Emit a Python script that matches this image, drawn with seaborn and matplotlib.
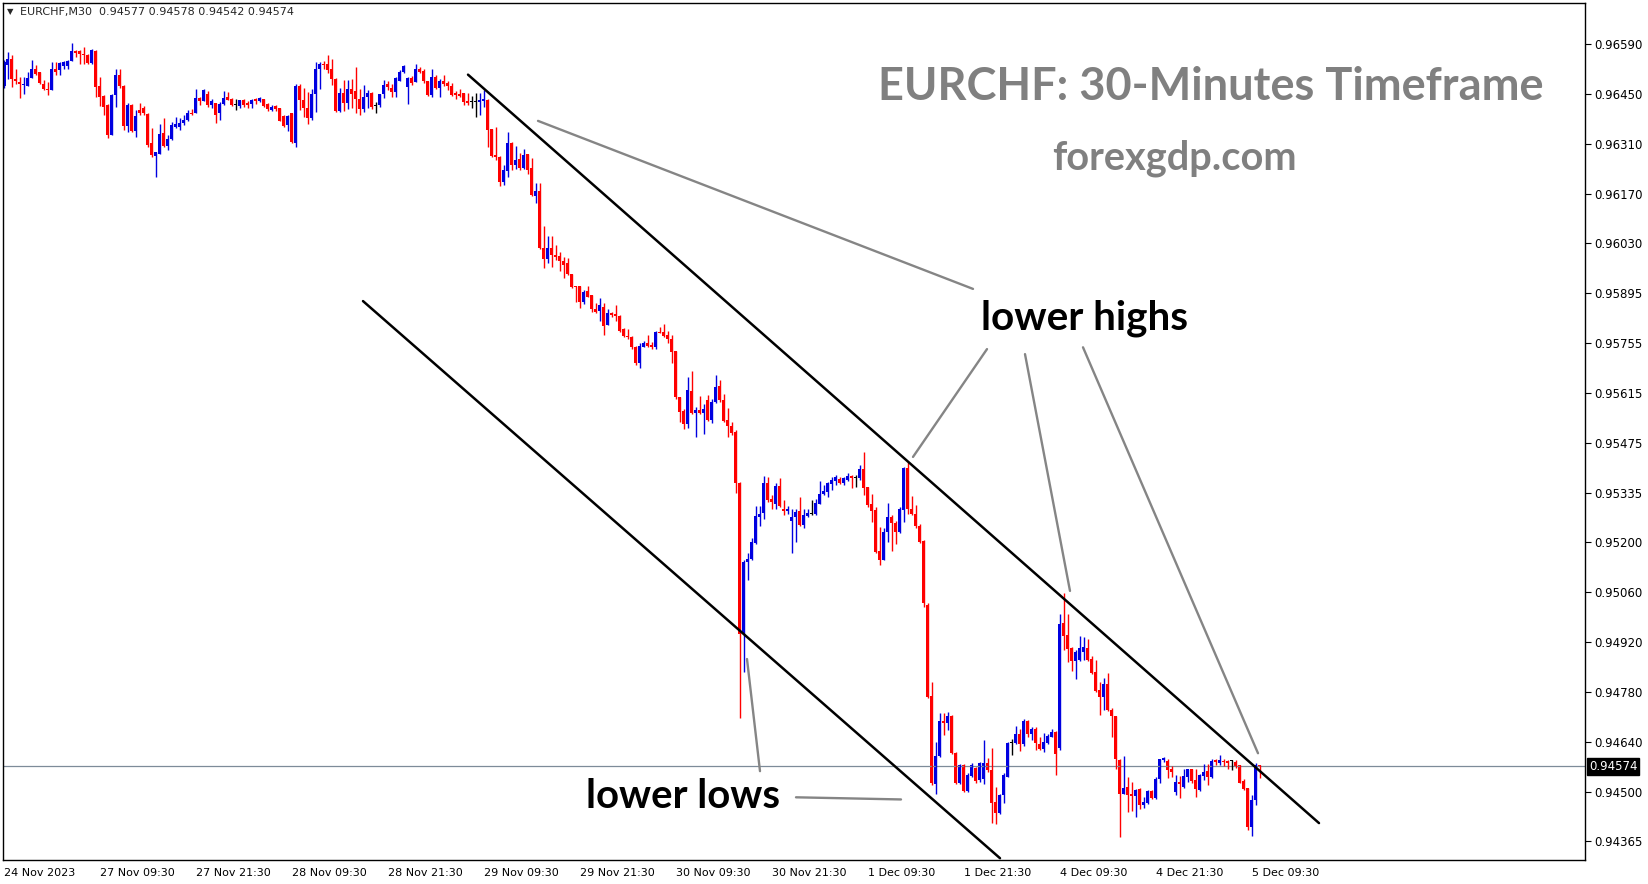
import numpy as np
import pandas as pd
import matplotlib
matplotlib.use("Agg")
import matplotlib.pyplot as plt
import matplotlib.transforms as mtransforms
import seaborn as sns

# EURCHF M30 candles, prices in points (1e-5)
opens = np.array([
    96473, 96532, 96550, 96492, 96485, 96477, 96473, 96497, 96522, 96513,
    96480, 96466, 96462, 96522, 96519, 96529, 96530, 96543, 96571, 96571,
    96562, 96559, 96538, 96571, 96473, 96445, 96420, 96336, 96448, 96504,
    96473, 96361, 96420, 96347, 96406, 96413, 96395, 96313, 96278, 96283,
    96341, 96306, 96325, 96358, 96359, 96369, 96378, 96399, 96397, 96439,
    96432, 96450, 96420, 96425, 96397, 96423, 96442, 96436, 96420, 96418,
    96434, 96425, 96423, 96436, 96431, 96436, 96423, 96406, 96417, 96411,
    96389, 96364, 96397, 96313, 96473, 96434, 96411, 96383, 96452, 96522,
    96536, 96536, 96522, 96494, 96404, 96454, 96425, 96466, 96460, 96438,
    96408, 96443, 96454, 96417, 96420, 96451, 96480, 96469, 96457, 96488,
    96513, 96471, 96497, 96485, 96522, 96516, 96486, 96448, 96499, 96467,
    96488, 96483, 96472, 96453, 96451, 96453, 96432, 96428, 96428, 96430,
    96432, 96434, 96352, 96281, 96276, 96206, 96237, 96313, 96253, 96270,
    96244, 96283, 96244, 96167, 96180, 96020, 95990, 96020, 96002, 95999,
    95986, 95980, 95949, 95915, 95915, 95871, 95902, 95889, 95852, 95846,
    95857, 95806, 95839, 95837, 95831, 95794, 95775, 95774, 95746, 95701,
    95746, 95755, 95750, 95746, 95788, 95788, 95778, 95767, 95734, 95604,
    95567, 95530, 95622, 95560, 95569, 95560, 95597, 95541, 95592, 95636,
    95597, 95541, 95524, 95508, 95366, 94945, 95145, 95152, 95197, 95271,
    95282, 95366, 95320, 95306, 95357, 95292, 95288, 95260, 95271, 95288,
    95249, 95273, 95280, 95279, 95308, 95334, 95341, 95362, 95372, 95376,
    95366, 95375, 95385, 95378, 95378, 95403, 95353, 95308, 95290, 95176,
    95150, 95229, 95269, 95253, 95229, 95290, 95408, 95292, 95280, 95245,
    95204, 95025, 94770, 94525, 94603, 94701, 94696, 94715, 94612, 94529,
    94577, 94506, 94547, 94569, 94536, 94538, 94585, 94564, 94474, 94445,
    94494, 94545, 94640, 94639, 94666, 94637, 94701, 94666, 94678, 94636,
    94622, 94640, 94657, 94671, 94625, 94975, 94941, 94906, 94869, 94871,
    94894, 94906, 94873, 94837, 94787, 94769, 94804, 94733, 94715, 94592,
    94497, 94517, 94497, 94491, 94510, 94466, 94473, 94506, 94485, 94540,
    94592, 94589, 94566, 94503, 94531, 94517, 94545, 94566, 94536, 94508,
    94547, 94562, 94545, 94592, 94584, 94590, 94590, 94589, 94587, 94578,
    94533, 94513, 94406, 94480, 94577,
]) / 1e5

highs = np.array([
    96545, 96569, 96559, 96522, 96499, 96499, 96513, 96547, 96532, 96513,
    96490, 96485, 96541, 96541, 96541, 96544, 96545, 96594, 96575, 96573,
    96583, 96564, 96578, 96573, 96499, 96448, 96422, 96450, 96522, 96522,
    96475, 96426, 96422, 96406, 96425, 96417, 96397, 96355, 96290, 96367,
    96385, 96336, 96373, 96387, 96383, 96392, 96406, 96408, 96466, 96443,
    96466, 96459, 96438, 96427, 96429, 96460, 96457, 96441, 96436, 96435,
    96436, 96431, 96436, 96440, 96443, 96438, 96426, 96419, 96420, 96413,
    96391, 96392, 96398, 96478, 96480, 96469, 96457, 96466, 96541, 96541,
    96544, 96561, 96549, 96496, 96469, 96490, 96490, 96492, 96525, 96466,
    96476, 96462, 96457, 96429, 96452, 96490, 96487, 96478, 96499, 96518,
    96532, 96499, 96501, 96536, 96525, 96520, 96488, 96520, 96504, 96492,
    96504, 96488, 96483, 96460, 96464, 96455, 96453, 96445, 96453, 96453,
    96462, 96436, 96353, 96360, 96277, 96253, 96346, 96318, 96306, 96285,
    96297, 96283, 96271, 96202, 96202, 96083, 96055, 96055, 96030, 96011,
    95997, 95992, 95949, 95915, 95915, 95904, 95915, 95889, 95869, 95883,
    95869, 95850, 95843, 95862, 95834, 95797, 95794, 95775, 95748, 95757,
    95762, 95778, 95760, 95790, 95802, 95809, 95790, 95778, 95734, 95606,
    95571, 95660, 95679, 95578, 95608, 95586, 95611, 95599, 95667, 95654,
    95615, 95574, 95536, 95513, 95368, 95150, 95169, 95211, 95301, 95301,
    95385, 95383, 95332, 95366, 95378, 95318, 95301, 95294, 95292, 95325,
    95292, 95292, 95318, 95320, 95372, 95360, 95369, 95383, 95387, 95381,
    95381, 95394, 95387, 95387, 95415, 95452, 95355, 95334, 95299, 95243,
    95239, 95310, 95276, 95260, 95297, 95411, 95425, 95329, 95304, 95251,
    95206, 95030, 94810, 94643, 94724, 94724, 94727, 94718, 94615, 94581,
    94581, 94557, 94585, 94573, 94587, 94648, 94597, 94627, 94518, 94497,
    94557, 94643, 94652, 94687, 94678, 94706, 94704, 94685, 94685, 94657,
    94668, 94666, 94680, 94673, 94999, 95059, 94999, 94908, 94899, 94938,
    94936, 94929, 94882, 94871, 94810, 94820, 94836, 94736, 94716, 94596,
    94603, 94545, 94531, 94510, 94513, 94489, 94508, 94508, 94545, 94596,
    94601, 94594, 94575, 94550, 94547, 94568, 94568, 94567, 94568, 94554,
    94582, 94582, 94594, 94596, 94606, 94594, 94592, 94592, 94592, 94578,
    94540, 94513, 94494, 94584, 94578,
]) / 1e5

lows = np.array([
    96468, 96494, 96471, 96480, 96441, 96452, 96473, 96497, 96504, 96480,
    96462, 96448, 96462, 96504, 96504, 96522, 96522, 96543, 96555, 96536,
    96536, 96536, 96536, 96443, 96417, 96392, 96327, 96336, 96415, 96469,
    96350, 96345, 96345, 96331, 96392, 96392, 96304, 96276, 96220, 96283,
    96302, 96294, 96324, 96355, 96350, 96364, 96376, 96392, 96397, 96420,
    96432, 96415, 96411, 96371, 96378, 96420, 96433, 96417, 96406, 96411,
    96415, 96411, 96411, 96423, 96429, 96415, 96404, 96404, 96403, 96376,
    96359, 96348, 96313, 96304, 96406, 96387, 96367, 96378, 96401, 96466,
    96522, 96510, 96476, 96401, 96401, 96404, 96408, 96411, 96397, 96392,
    96401, 96411, 96408, 96398, 96415, 96441, 96462, 96443, 96443, 96488,
    96510, 96423, 96476, 96485, 96510, 96483, 96445, 96444, 96464, 96442,
    96473, 96462, 96445, 96436, 96444, 96420, 96420, 96411, 96388, 96392,
    96416, 96302, 96276, 96267, 96194, 96197, 96220, 96239, 96241, 96239,
    96241, 96228, 96167, 96148, 96017, 95964, 95978, 95969, 95988, 95958,
    95937, 95946, 95909, 95871, 95853, 95865, 95884, 95843, 95841, 95818,
    95778, 95806, 95828, 95818, 95788, 95772, 95766, 95738, 95695, 95685,
    95744, 95744, 95738, 95738, 95783, 95772, 95755, 95701, 95601, 95536,
    95515, 95518, 95558, 95494, 95558, 95502, 95539, 95532, 95589, 95592,
    95536, 95494, 95500, 95336, 94710, 94838, 95094, 95150, 95195, 95245,
    95266, 95313, 95294, 95294, 95297, 95276, 95279, 95169, 95201, 95245,
    95239, 95271, 95277, 95277, 95306, 95332, 95327, 95346, 95360, 95362,
    95359, 95372, 95350, 95353, 95375, 95332, 95299, 95257, 95169, 95136,
    95150, 95201, 95176, 95195, 95226, 95257, 95279, 95276, 95239, 95197,
    95020, 94764, 94522, 94497, 94601, 94662, 94676, 94609, 94525, 94525,
    94504, 94504, 94545, 94529, 94532, 94525, 94559, 94417, 94413, 94441,
    94471, 94544, 94606, 94637, 94618, 94631, 94657, 94649, 94621, 94620,
    94615, 94638, 94655, 94550, 94620, 94899, 94866, 94841, 94817, 94868,
    94871, 94869, 94832, 94783, 94717, 94733, 94729, 94657, 94568, 94376,
    94496, 94447, 94450, 94433, 94454, 94457, 94469, 94482, 94482, 94527,
    94587, 94543, 94545, 94494, 94485, 94515, 94531, 94527, 94489, 94506,
    94536, 94522, 94543, 94578, 94578, 94575, 94566, 94564, 94571, 94527,
    94508, 94398, 94380, 94466, 94542,
]) / 1e5

closes = np.array([
    96541, 96550, 96494, 96487, 96480, 96480, 96497, 96522, 96506, 96483,
    96464, 96463, 96522, 96513, 96538, 96541, 96544, 96571, 96566, 96564,
    96559, 96538, 96573, 96471, 96443, 96415, 96336, 96448, 96504, 96473,
    96361, 96420, 96347, 96389, 96397, 96397, 96308, 96280, 96288, 96339,
    96305, 96325, 96364, 96367, 96371, 96378, 96399, 96395, 96440, 96432,
    96462, 96420, 96431, 96392, 96423, 96441, 96434, 96420, 96420, 96434,
    96420, 96419, 96434, 96431, 96440, 96417, 96408, 96415, 96409, 96376,
    96361, 96389, 96317, 96473, 96434, 96411, 96383, 96452, 96522, 96536,
    96532, 96518, 96494, 96404, 96454, 96426, 96466, 96452, 96437, 96408,
    96443, 96454, 96415, 96417, 96451, 96476, 96471, 96457, 96497, 96513,
    96529, 96497, 96482, 96522, 96513, 96486, 96448, 96499, 96467, 96488,
    96479, 96472, 96448, 96448, 96446, 96430, 96427, 96428, 96428, 96434,
    96437, 96351, 96278, 96274, 96206, 96239, 96313, 96253, 96267, 96244,
    96281, 96239, 96169, 96180, 96020, 95990, 96020, 96002, 95997, 95986,
    95974, 95949, 95913, 95911, 95871, 95899, 95885, 95850, 95843, 95862,
    95804, 95839, 95834, 95831, 95790, 95775, 95772, 95744, 95701, 95748,
    95757, 95748, 95746, 95788, 95785, 95775, 95766, 95732, 95604, 95564,
    95530, 95625, 95560, 95569, 95560, 95571, 95541, 95592, 95632, 95597,
    95539, 95524, 95505, 95366, 94945, 95145, 95152, 95201, 95273, 95280,
    95366, 95318, 95311, 95357, 95301, 95288, 95292, 95269, 95284, 95247,
    95276, 95282, 95280, 95310, 95334, 95344, 95364, 95373, 95381, 95366,
    95378, 95385, 95378, 95378, 95403, 95350, 95304, 95288, 95173, 95150,
    95229, 95271, 95253, 95229, 95292, 95408, 95292, 95280, 95245, 95201,
    95031, 94767, 94527, 94603, 94701, 94696, 94715, 94611, 94527, 94577,
    94506, 94550, 94578, 94534, 94585, 94583, 94564, 94471, 94445, 94494,
    94550, 94640, 94640, 94666, 94637, 94701, 94666, 94678, 94640, 94624,
    94643, 94659, 94671, 94608, 94973, 94938, 94901, 94869, 94894, 94906,
    94908, 94871, 94836, 94785, 94769, 94804, 94731, 94715, 94594, 94497,
    94515, 94494, 94491, 94508, 94466, 94475, 94506, 94485, 94540, 94594,
    94598, 94564, 94559, 94531, 94525, 94547, 94566, 94534, 94510, 94550,
    94559, 94545, 94589, 94587, 94592, 94587, 94584, 94589, 94573, 94528,
    94510, 94406, 94480, 94578, 94574,
]) / 1e5

header_symbol = "EURCHF,M30"
header_ohlc = "0.94577 0.94578 0.94542 0.94574"
last_price = 0.94574

x_tick_idx = [0, 24, 48, 72, 96, 120, 144, 168, 192, 216, 240, 264, 288, 312]
x_tick_labels = ["24 Nov 2023", "27 Nov 09:30", "27 Nov 21:30", "28 Nov 09:30",
                 "28 Nov 21:30", "29 Nov 09:30", "29 Nov 21:30", "30 Nov 09:30",
                 "30 Nov 21:30", "1 Dec 09:30", "1 Dec 21:30", "4 Dec 09:30",
                 "4 Dec 21:30", "5 Dec 09:30"]
y_tick_labels = ["0.96590", "0.96450", "0.96310", "0.96170", "0.96030", "0.95895",
                 "0.95755", "0.95615", "0.95475", "0.95335", "0.95200", "0.95060",
                 "0.94920", "0.94780", "0.94640", "0.94500", "0.94365"]

# trend channel (candle index, price)
channel_x0 = [116, 89.75]
channel_y0 = [0.96505, 0.95873]
channel_x1 = [328.75, 249]
channel_y1 = [0.94416, 0.94318]

# grey pointer lines
pointer_x0 = [133.5, 245.75, 255.25, 269.75, 185.75, 198]
pointer_y0 = [0.96376, 0.95739, 0.95725, 0.95744, 0.94874, 0.94488]
pointer_x1 = [242.25, 227.25, 266.5, 313.5, 189, 224.25]
pointer_y1 = [0.95907, 0.95438, 0.95064, 0.94611, 0.94561, 0.94482]

title_text = "EURCHF: 30-Minutes Timeframe"
site_text = "forexgdp.com"
highs_text = "lower highs"
lows_text = "lower lows"

sns.set_style("white")

W, H = 1649, 884
fig = plt.figure(figsize=(W / 100, H / 100), dpi=100)
ax = fig.add_axes([3 / W, 24 / H, 1582 / W, 857 / H])

idx = np.arange(len(opens))
colors = np.where(closes > opens, "#0000e0", np.where(closes < opens, "#ff0000", "#000000"))
body_low = np.minimum(opens, closes)
body_h = np.maximum(np.abs(closes - opens), 2.8e-5)

ax.vlines(idx, lows, highs, colors=colors, linewidth=1.0)
ax.bar(idx, body_h, bottom=body_low, width=0.75, color=colors, linewidth=0)

ax.axhline(last_price, color="#7d8b99", linewidth=0.9, zorder=1)

chan = pd.DataFrame({
    "x": channel_x0 + channel_x1,
    "y": channel_y0 + channel_y1,
    "seg": list(range(len(channel_x0))) * 2,
})
sns.lineplot(data=chan, x="x", y="y", units="seg", estimator=None, sort=False,
             color="black", linewidth=1.8, ax=ax)
ptr = pd.DataFrame({
    "x": pointer_x0 + pointer_x1,
    "y": pointer_y0 + pointer_y1,
    "seg": list(range(len(pointer_x0))) * 2,
})
sns.lineplot(data=ptr, x="x", y="y", units="seg", estimator=None, sort=False,
             color="#858585", linewidth=1.7, ax=ax)

ax.set_xlim(-0.25, 395.25)
ax.set_ylim(0.94313, 0.96705)
ax.set_xlabel("")
ax.set_ylabel("")

ax.set_xticks(x_tick_idx)
ax.set_xticklabels(x_tick_labels, ha="left", fontsize=8)
ax.yaxis.tick_right()
ax.set_yticks(np.linspace(0.96590, 0.94365, len(y_tick_labels)))
ax.set_yticklabels(y_tick_labels, fontsize=8.5)
ax.tick_params(axis="x", direction="out", length=4, width=0.8, pad=2, colors="black")
ax.tick_params(axis="y", direction="out", length=4, width=0.8, pad=3, colors="black")
for s in ax.spines.values():
    s.set_color("black")
    s.set_linewidth(1.0)

trans = mtransforms.blended_transform_factory(ax.transAxes, ax.transData)
ax.text(1.0025, last_price, f"{last_price:.5f}", transform=trans, ha="left", va="center",
        fontsize=8.5, color="white",
        bbox=dict(facecolor="black", edgecolor="black", pad=1.2))

fig.text(7 / W, 1 - 12 / H, "\u25bc", fontsize=6, va="center", ha="left")
fig.text(20 / W, 1 - 12 / H, header_symbol + "  " + header_ohlc, fontsize=8, va="center", ha="left")

t_title = ax.text(301.6, 0.96434, title_text, ha="center", va="baseline",
                  fontsize=34, fontweight="bold", family="Lato", color="#808080")
t_site = ax.text(292.6, 0.96239, site_text, ha="center", va="baseline",
                 fontsize=26, fontweight="bold", family="Lato", color="#808080")
t_hi = ax.text(270.1, 0.95795, highs_text, ha="center", va="baseline",
               fontsize=24, fontweight="bold", family="Lato", color="black")
t_lo = ax.text(169.75, 0.94458, lows_text, ha="center", va="baseline",
               fontsize=24, fontweight="bold", family="Lato", color="black")

fig.canvas.draw()
for t, target in [(t_title, 665), (t_site, 245), (t_hi, 207), (t_lo, 194)]:
    w = t.get_window_extent().width
    t.set_fontsize(t.get_fontsize() * target / w)

fig.savefig("out.png", dpi=100, facecolor="white")
